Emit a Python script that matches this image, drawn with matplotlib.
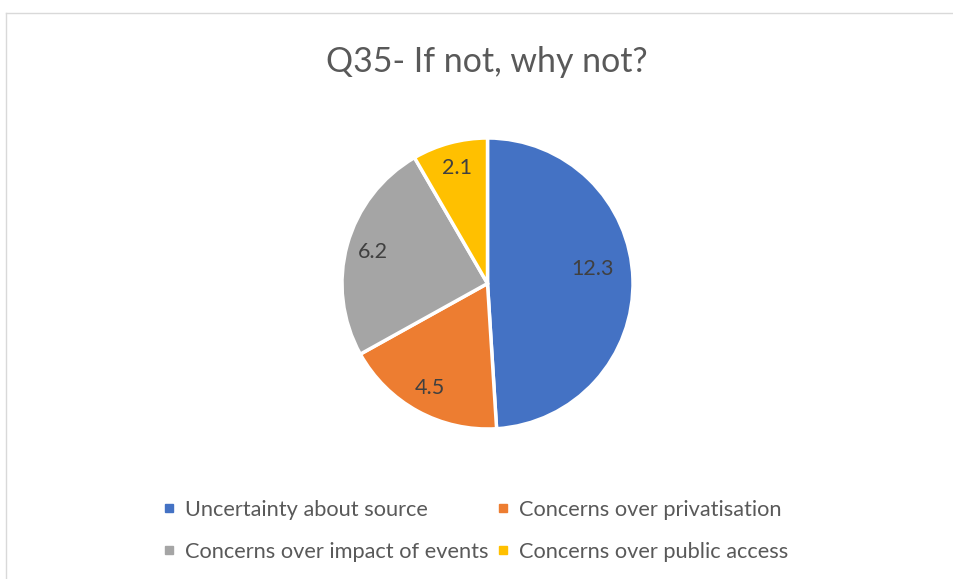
import matplotlib.pyplot as plt
from matplotlib.lines import Line2D

# survey answers for Q35
reasons = ["Uncertainty about source", "Concerns over privatisation",
           "Concerns over impact of events", "Concerns over public access"]
scores = [12.3, 4.5, 6.2, 2.1]
colors = ["#4472C4", "#ED7D31", "#A5A5A5", "#FFC000"]

plt.rcParams["font.family"] = ["Lato", "DejaVu Sans"]

W, H = 954, 579
fig = plt.figure(figsize=(W / 100, H / 100), dpi=100)

# light frame, only top and left edges fall inside the canvas
fig.add_artist(Line2D([6.5 / W, 6.5 / W], [0, 1 - 12.5 / H], color="#D9D9D9", lw=1))
fig.add_artist(Line2D([6.5 / W, 1], [1 - 12.5 / H, 1 - 12.5 / H], color="#D9D9D9", lw=1))

fig.text(487 / W, 1 - 62 / H, "Q35- If not, why not?", ha="center", va="center",
         fontsize=24.4, color="#595959")

cx, cy, r = 487.5, 283.5, 145.5
ax = fig.add_axes([(cx - r) / W, 1 - (cy + r) / H, 2 * r / W, 2 * r / H])
wedges, _, values = ax.pie(scores, colors=colors, startangle=90, counterclock=False,
                           autopct=lambda p: f"{p * sum(scores) / 100:.1f}",
                           pctdistance=0.82,
                           wedgeprops=dict(edgecolor="white", linewidth=2.5),
                           textprops=dict(fontsize=15.5, color="#404040"))
# the big slice keeps its label a bit further in and higher
values[0].set_position((0.72, 0.1))
ax.set_xlim(-1, 1)
ax.set_ylim(-1, 1)
ax.set_aspect("equal")
ax.axis("off")

# legend is filled column by column, so interleave to read row by row
order = [0, 2, 1, 3]
handles = [Line2D([], [], marker="s", linestyle="none", markersize=6,
                  markerfacecolor=colors[i], markeredgecolor=colors[i]) for i in order]
fig.legend(handles, [reasons[i] for i in order], ncol=2, loc="center", frameon=False,
           bbox_to_anchor=(476 / W, 1 - 531 / H), fontsize=15.7,
           labelcolor="#595959", handlelength=0.5, handletextpad=0.45,
           columnspacing=0.45, labelspacing=1.0)

fig.savefig("out.png", dpi=100)
